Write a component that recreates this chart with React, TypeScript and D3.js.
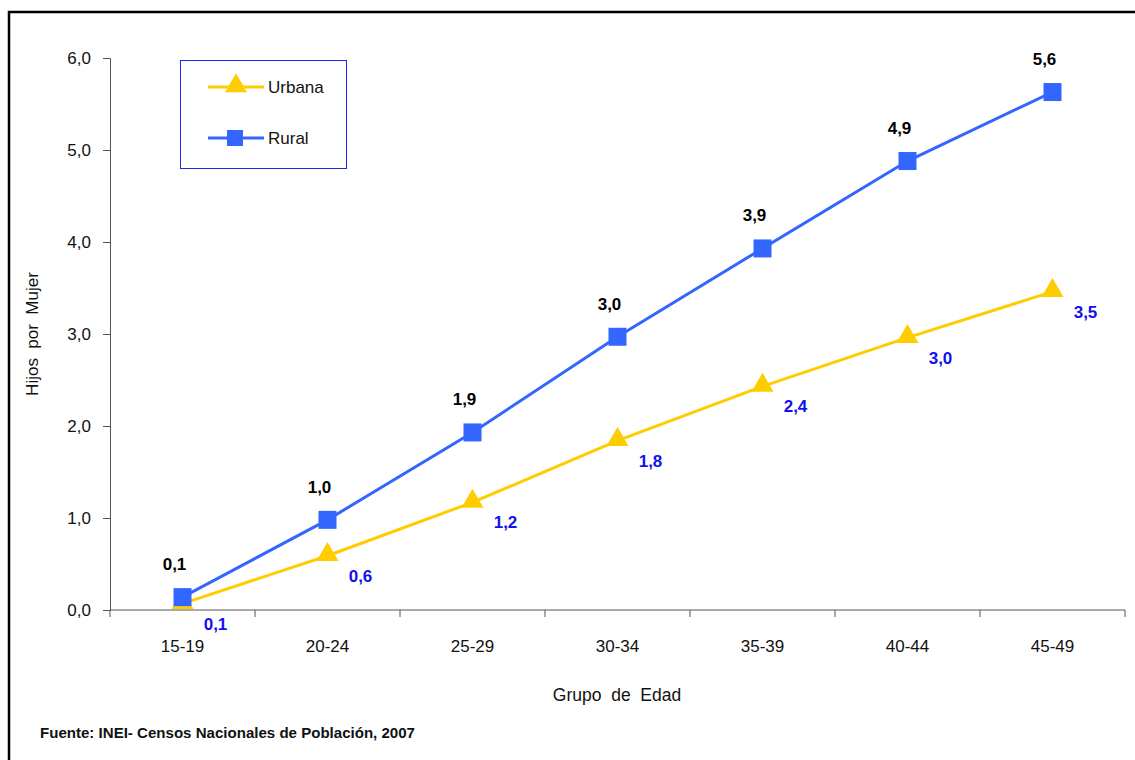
import React, { useRef, useEffect } from "react";
import * as d3 from "d3";

const ageGroups = ["15-19", "20-24", "25-29", "30-34", "35-39", "40-44", "45-49"];
const urbanaValues = [0.07, 0.59, 1.17, 1.84, 2.43, 2.96, 3.46];
const ruralValues = [0.14, 0.98, 1.93, 2.97, 3.93, 4.88, 5.63];
const yTicks = [0, 1, 2, 3, 4, 5, 6];

const W = 1135;
const H = 760;
const FONT = "'Liberation Sans', Arial, Helvetica, sans-serif";
const YELLOW = "#FFCC00";
const BLUE = "#3366FF";
const LABEL_BLUE = "#1111EE";

const fmt = (v: number) => v.toFixed(1).replace(".", ",");

export default function App() {
  const svgRef = useRef<SVGSVGElement>(null);

  useEffect(() => {
    if (!svgRef.current) return;
    const svg = d3.select(svgRef.current);
    svg.selectAll("*").remove();

    const margin = { top: 58, left: 110, right: 10, bottom: 150 };
    const x = d3
      .scaleBand<string>()
      .domain(ageGroups)
      .range([margin.left, W - margin.right]);
    const y = d3.scaleLinear().domain([0, 6]).range([H - margin.bottom, margin.top]);
    const cx = (d: string) => (x(d) ?? 0) + x.bandwidth() / 2;

    // marco
    svg
      .append("path")
      .attr("d", `M9,${H} V12 H${W}`)
      .attr("fill", "none")
      .attr("stroke", "#000")
      .attr("stroke-width", 2.5);

    // ejes
    const yAxis = svg
      .append("g")
      .attr("transform", `translate(${margin.left},0)`)
      .call(
        d3
          .axisLeft(y)
          .tickValues(yTicks)
          .tickSize(7)
          .tickPadding(12)
          .tickFormat((d) => fmt(d as number))
      );
    yAxis.select(".domain").attr("stroke", "#555");
    yAxis.selectAll(".tick line").attr("stroke", "#555");
    yAxis
      .selectAll(".tick text")
      .attr("font-family", FONT)
      .attr("font-size", 17)
      .attr("fill", "#111");

    const xAxis = svg
      .append("g")
      .attr("transform", `translate(0,${y(0)})`)
      .call(d3.axisBottom(x).tickSize(0).tickPadding(30));
    xAxis.select(".domain").attr("stroke", "#555").attr("d", `M${margin.left},0H${W - margin.right}`);
    xAxis
      .selectAll(".tick text")
      .attr("font-family", FONT)
      .attr("font-size", 17)
      .attr("fill", "#111");
    const edges = ageGroups.map((g) => x(g) ?? 0).concat([W - margin.right]);
    svg
      .append("g")
      .selectAll("line")
      .data(edges)
      .enter()
      .append("line")
      .attr("x1", (d) => d)
      .attr("x2", (d) => d)
      .attr("y1", y(0))
      .attr("y2", y(0) + 7)
      .attr("stroke", "#555");

    // títulos de ejes
    svg
      .append("text")
      .attr("transform", `translate(38,${(y(0) + y(6)) / 2}) rotate(-90)`)
      .attr("text-anchor", "middle")
      .attr("font-family", FONT)
      .attr("font-size", 17)
      .attr("fill", "#111")
      .attr("xml:space", "preserve")
      .text("Hijos  por  Mujer");
    svg
      .append("text")
      .attr("x", 617)
      .attr("y", 701)
      .attr("text-anchor", "middle")
      .attr("font-family", FONT)
      .attr("font-size", 17.5)
      .attr("fill", "#111")
      .attr("xml:space", "preserve")
      .text("Grupo  de  Edad");

    svg
      .append("text")
      .attr("x", 40)
      .attr("y", 738)
      .attr("font-family", FONT)
      .attr("font-size", 15)
      .attr("font-weight", "bold")
      .attr("fill", "#111")
      .attr("textLength", 375)
      .attr("lengthAdjust", "spacingAndGlyphs")
      .text("Fuente: INEI- Censos Nacionales de Población, 2007");

    const line = d3
      .line<number>()
      .x((_, i) => cx(ageGroups[i]))
      .y((d) => y(d));

    const tri = d3.symbol().type(d3.symbolTriangle).size(210);

    // Urbana
    svg
      .append("path")
      .datum(urbanaValues)
      .attr("fill", "none")
      .attr("stroke", YELLOW)
      .attr("stroke-width", 3)
      .attr("d", line);
    svg
      .append("g")
      .selectAll("path")
      .data(urbanaValues)
      .enter()
      .append("path")
      .attr("d", tri)
      .attr("transform", (d, i) => `translate(${cx(ageGroups[i])},${y(d) - 1})`)
      .attr("fill", YELLOW);

    // Rural
    svg
      .append("path")
      .datum(ruralValues)
      .attr("fill", "none")
      .attr("stroke", BLUE)
      .attr("stroke-width", 3)
      .attr("d", line);
    svg
      .append("g")
      .selectAll("rect")
      .data(ruralValues)
      .enter()
      .append("rect")
      .attr("x", (d, i) => cx(ageGroups[i]) - 9)
      .attr("y", (d) => y(d) - 9)
      .attr("width", 18)
      .attr("height", 18)
      .attr("fill", BLUE);

    // etiquetas
    svg
      .append("g")
      .selectAll("text")
      .data(ruralValues)
      .enter()
      .append("text")
      .attr("x", (d, i) => cx(ageGroups[i]) - 8)
      .attr("y", (d) => y(d) - 27)
      .attr("text-anchor", "middle")
      .attr("font-family", FONT)
      .attr("font-size", 17)
      .attr("font-weight", "bold")
      .attr("fill", "#000")
      .text((d) => fmt(d));
    svg
      .append("g")
      .selectAll("text")
      .data(urbanaValues)
      .enter()
      .append("text")
      .attr("x", (d, i) => cx(ageGroups[i]) + 33)
      .attr("y", (d) => y(d) + 26)
      .attr("text-anchor", "middle")
      .attr("font-family", FONT)
      .attr("font-size", 17)
      .attr("font-weight", "bold")
      .attr("fill", LABEL_BLUE)
      .text((d) => fmt(d));

    // leyenda
    const lg = svg.append("g").attr("transform", "translate(180,60)");
    lg.append("rect")
      .attr("x", 0.5)
      .attr("y", 0.5)
      .attr("width", 166)
      .attr("height", 108)
      .attr("fill", "#fff")
      .attr("stroke", "#2222EE")
      .attr("stroke-width", 1);
    const items = [
      { name: "Urbana", color: YELLOW, sym: "tri", yy: 27 },
      { name: "Rural", color: BLUE, sym: "sq", yy: 78 },
    ];
    items.forEach((it) => {
      lg.append("line")
        .attr("x1", 28)
        .attr("x2", 84)
        .attr("y1", it.yy)
        .attr("y2", it.yy)
        .attr("stroke", it.color)
        .attr("stroke-width", 3);
      if (it.sym === "tri") {
        lg.append("path")
          .attr("d", tri)
          .attr("transform", `translate(56,${it.yy - 1})`)
          .attr("fill", it.color);
      } else {
        lg.append("rect")
          .attr("x", 47)
          .attr("y", it.yy - 8)
          .attr("width", 16)
          .attr("height", 16)
          .attr("fill", it.color);
      }
      lg.append("text")
        .attr("x", 88)
        .attr("y", it.yy + 6)
        .attr("font-family", FONT)
        .attr("font-size", 17)
        .attr("fill", "#111")
        .text(it.name);
    });
  }, []);

  return (
    <svg
      ref={svgRef}
      width={W}
      height={H}
      style={{ position: "absolute", left: 0, top: 0, background: "#fff" }}
    />
  );
}
